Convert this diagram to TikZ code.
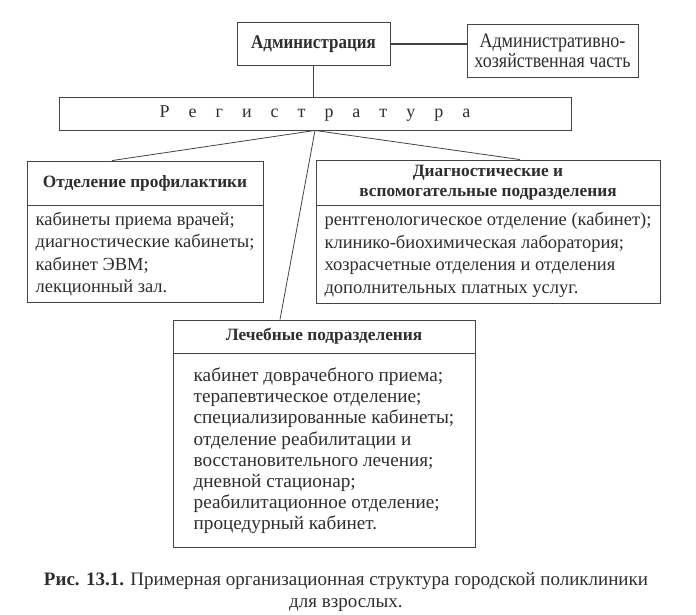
\documentclass[tikz,border=0pt]{standalone}
\usepackage{fontspec}
\setmainfont{Liberation Serif}
\newfontfamily\narrowfont[FakeStretch=0.88]{Liberation Serif}
\usetikzlibrary{positioning,calc}
\definecolor{ink}{HTML}{2E2E2E}
\newcommand{\gap}{\hspace{19pt}}

\begin{document}
\begin{tikzpicture}[x=1pt, y=-1pt, color=ink,
	box/.style={draw=ink!90, fill=white, line width=0.9pt, inner sep=0pt},
	headbox/.style={box, font=\fontsize{17.3}{19.5}\selectfont\bfseries, align=center},
	bodybox/.style={box, anchor=north, align=left, font=\fontsize{18.5}{22.5}\selectfont}]
	\useasboundingbox (0,0) rectangle (696,615);
	% Top level:
	\node[box, minimum width=153, minimum height=43, font=\narrowfont\fontsize{19.3}{20}\selectfont\bfseries] (admin) at (313.5,44) {Администрация};
	\node[box, minimum width=171, minimum height=53, align=center, font=\narrowfont\fontsize{20.5}{20}\selectfont] (adminhoz) at (552.5,50.5) {Административно-\\хозяйственная часть};
	\node[box, minimum width=512, minimum height=33, font=\fontsize{18}{20}\selectfont] (reg) at (315,113.5) {Р\gap е\gap г\gap и\gap с\gap т\gap р\gap а\gap т\gap у\gap р\gap а};
	% Departments:
	\node[headbox, minimum width=236, minimum height=44] (prof) at (145,183) {Отделение профилактики};
	\node[bodybox, minimum width=236, minimum height=97] (profbody) at (prof.south) {кабинеты приема врачей;\\диагностические кабинеты;\\кабинет ЭВМ;\\лекционный зал.};
	\node[headbox, minimum width=344, minimum height=45] (diag) at (488,182.5) {Диагностические и\\вспомогательные подразделения};
	\node[bodybox, minimum width=344, minimum height=98] (diagbody) at (diag.south) {рентгенологическое отделение (кабинет);\\клинико-биохимическая лаборатория;\\хозрасчетные отделения и отделения\\дополнительных платных услуг.};
	\node[headbox, minimum width=302, minimum height=33] (leche) at (324,336.5) {Лечебные подразделения};
	\node[bodybox, minimum width=302, minimum height=194, font=\fontsize{19.2}{21.2}\selectfont] (lechebody) at (leche.south) {кабинет доврачебного приема;\\терапевтическое отделение;\\специализированные кабинеты;\\отделение реабилитации и\\восстановительного лечения;\\дневной стационар;\\реабилитационное отделение;\\процедурный кабинет.};
	% Caption:
	\node[align=center, font=\fontsize{19}{21.5}\selectfont] (caption) at (346,592) {\textbf{Рис. 13.1.} Примерная организационная структура городской поликлиники\\для взрослых.};
	% Connections:
	\draw[ink!90, line width=2pt] (admin.east) -- (admin.east -| adminhoz.west);
	\draw[ink!90, line width=0.8pt] (admin.south) -- (admin.south |- reg.north);
	\draw[ink!90, line width=0.8pt] (reg.south) -- ($(prof.north)+(-33,0)$);
	\draw[ink!90, line width=0.8pt] (reg.south) -- ($(diag.north)+(32,0)$);
	\draw[ink!90, line width=0.8pt] (reg.south) -- ($(leche.north)+(-44,0)$);
\end{tikzpicture}
\end{document}
